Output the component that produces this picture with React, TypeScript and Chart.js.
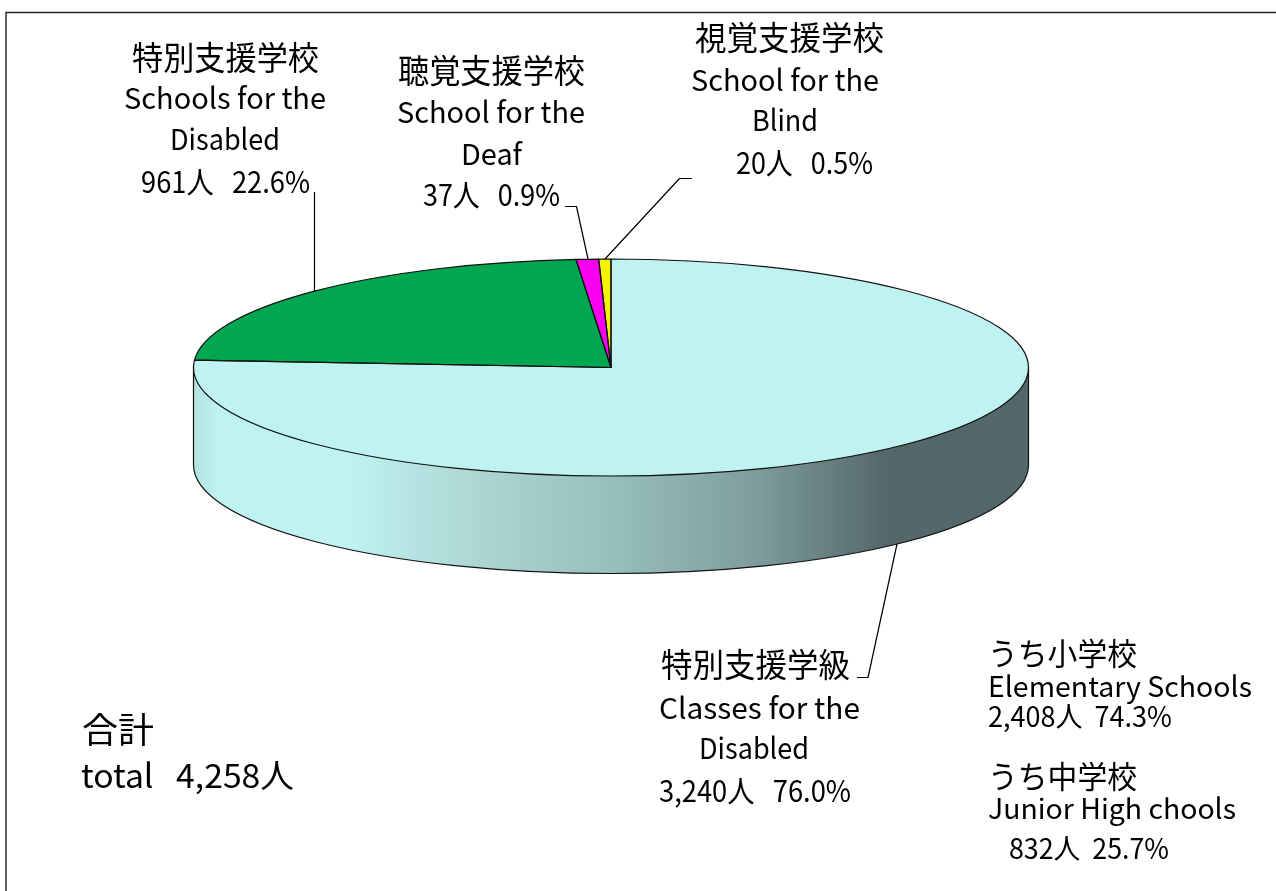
import React, { useEffect, useRef } from "react";
import { Chart, registerables } from "chart.js";

Chart.register(...registerables);

// ---- data ----
const categories = ["特別支援学級", "特別支援学校", "聴覚支援学校", "視覚支援学校"];
const pupils = [3240, 961, 37, 20];
const sliceColors = ["#bff3f1", "#00a650", "#f800f0", "#f4f400"];

// ---- text ----
const classLines = ["特別支援学級", "Classes for the", "Disabled", "3,240人   76.0%"];
const disabledLines = ["特別支援学校", "Schools for the", "Disabled", "961人   22.6%"];
const deafLines = ["聴覚支援学校", "School for the", "Deaf", "37人   0.9%"];
const blindLines = ["視覚支援学校", "School for the", "Blind", "20人   0.5%"];
const elementaryLines = ["うち小学校", "Elementary Schools", "2,408人  74.3%"];
const juniorLines = ["うち中学校", "Junior High chools", "832人  25.7%"];
const totalLines = ["合計", "total   4,258人"];

// ---- layout ----
const W = 1276;
const H = 891;
const FONT = '"Noto Sans CJK JP", sans-serif';
const pieBox = { cx: 611, cy: 367.5, rx: 417.5, ry: 108.5, depth: 97.5 };

// [text, left, right, vertical middle, font size]
type Placed = [string, number, number, number, number];
const placed: Placed[] = [
  [disabledLines[0], 132, 319, 57, 33],
  [disabledLines[1], 124, 326, 98, 29],
  [disabledLines[2], 170, 280, 139, 29],
  [disabledLines[3], 141, 310, 182, 30],
  [deafLines[0], 398, 585, 70, 33],
  [deafLines[1], 397, 585, 112, 29],
  [deafLines[2], 461, 522, 154, 29],
  [deafLines[3], 423, 560, 195, 30],
  [blindLines[0], 695, 884, 37, 33],
  [blindLines[1], 691, 879, 80, 29],
  [blindLines[2], 752, 818, 120, 29],
  [blindLines[3], 736, 873, 163, 30],
  [classLines[0], 661, 850, 664, 33],
  [classLines[1], 659, 860, 708, 29],
  [classLines[2], 699, 809, 748, 29],
  [classLines[3], 659, 851, 791, 30],
  [elementaryLines[0], 988, 1137, 653, 31],
  [elementaryLines[1], 988, 1252, 686, 28],
  [elementaryLines[2], 988, 1172, 716, 28],
  [juniorLines[0], 988, 1137, 776, 31],
  [juniorLines[1], 988, 1236, 808, 28],
  [juniorLines[2], 1009, 1169, 848, 28],
  [totalLines[0], 82, 154, 730, 35],
  [totalLines[1], 81, 294, 775, 33],
];

const leaders: number[][][] = [
  [[314.5, 192], [314.5, 291]],
  [[565, 206.5], [576.5, 206.5], [588, 259]],
  [[692, 178.5], [679.5, 178.5], [605, 259]],
  [[857, 677.5], [868, 677.5], [897, 544]],
];

const wallStops: [number, string][] = [
  [0, "#b3e1e1"],
  [0.03, "#bff3f1"],
  [0.187, "#bff3f1"],
  [0.27, "#b5e2e0"],
  [0.367, "#a8d1cf"],
  [0.5, "#97bfbd"],
  [0.667, "#7f9f9e"],
  [0.828, "#54686a"],
  [1, "#54686a"],
];

const piePlugin = {
  id: "tiltedPie",
  beforeDatasetsDraw(chart: any) {
    const ctx = chart.ctx as CanvasRenderingContext2D;
    const { cx, cy, rx, ry, depth } = pieBox;

    // frame
    ctx.save();
    ctx.strokeStyle = "#222222";
    ctx.lineWidth = 1.4;
    ctx.beginPath();
    ctx.moveTo(6, H);
    ctx.lineTo(6, 12.5);
    ctx.lineTo(W, 12.5);
    ctx.stroke();

    // side wall of the disc
    const grad = ctx.createLinearGradient(cx - rx, 0, cx + rx, 0);
    wallStops.forEach(([o, c]) => grad.addColorStop(o, c));
    ctx.beginPath();
    ctx.moveTo(cx - rx, cy);
    ctx.lineTo(cx - rx, cy + depth);
    ctx.ellipse(cx, cy + depth, rx, ry, 0, Math.PI, 0, true);
    ctx.lineTo(cx + rx, cy);
    ctx.closePath();
    ctx.fillStyle = grad;
    ctx.fill();
    ctx.strokeStyle = "#111111";
    ctx.lineWidth = 1.2;
    ctx.stroke();
    ctx.restore();

    // squash the library's circular pie into the disc's top face
    const arc = chart.getDatasetMeta(0).data[0];
    const R = arc.outerRadius;
    ctx.save();
    ctx.translate(cx, cy);
    ctx.scale(rx / R, ry / R);
    ctx.translate(-arc.x, -arc.y);
  },
  afterDatasetsDraw(chart: any) {
    const ctx = chart.ctx as CanvasRenderingContext2D;
    ctx.restore();
    const { cx, cy, rx, ry } = pieBox;

    // slice outlines at a uniform line width
    ctx.save();
    ctx.strokeStyle = "#111111";
    ctx.lineWidth = 1.2;
    ctx.lineJoin = "round";
    chart.getDatasetMeta(0).data.forEach((arc: any) => {
      ctx.beginPath();
      ctx.moveTo(cx, cy);
      ctx.ellipse(cx, cy, rx, ry, 0, arc.startAngle, arc.endAngle);
      ctx.closePath();
      ctx.stroke();
    });

    // leader lines
    ctx.strokeStyle = "#000000";
    ctx.lineWidth = 1.2;
    leaders.forEach((pts) => {
      ctx.beginPath();
      pts.forEach(([x, y], i) => (i ? ctx.lineTo(x, y) : ctx.moveTo(x, y)));
      ctx.stroke();
    });

    // labels, each fitted to its width
    ctx.fillStyle = "#000000";
    ctx.textAlign = "left";
    ctx.textBaseline = "middle";
    placed.forEach(([text, left, right, mid, size]) => {
      ctx.font = `${size}px ${FONT}`;
      const w = ctx.measureText(text).width;
      ctx.save();
      ctx.translate(left, mid);
      ctx.scale((right - left) / w, 1);
      ctx.fillText(text, 0, 0);
      ctx.restore();
    });
    ctx.restore();
  },
};

export default function App() {
  const ref = useRef<HTMLCanvasElement>(null);
  useEffect(() => {
    document.body.style.margin = "0";
    const chart = new Chart(ref.current!, {
      type: "pie",
      data: {
        labels: categories,
        datasets: [
          {
            data: pupils,
            backgroundColor: sliceColors,
            borderWidth: 0,
            clip: false,
          } as any,
        ],
      },
      options: {
        responsive: false,
        animation: false,
        plugins: { legend: { display: false }, tooltip: { enabled: false } },
      },
      plugins: [piePlugin],
    });
    return () => chart.destroy();
  }, []);
  return <canvas ref={ref} width={W} height={H} style={{ display: "block" }} />;
}
